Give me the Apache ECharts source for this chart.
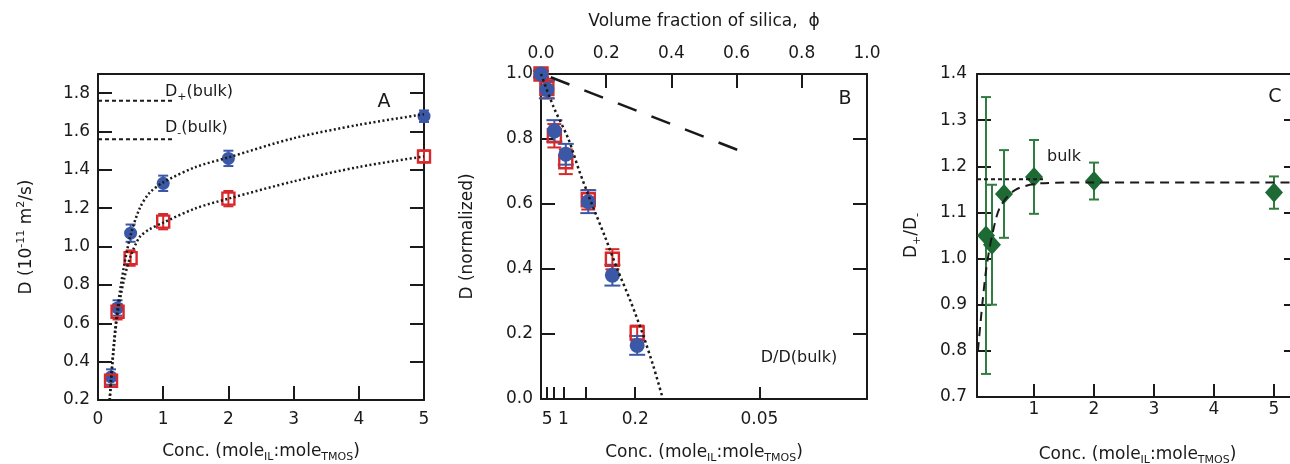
<!DOCTYPE html>
<html><head><meta charset="utf-8">
<script src="https://cdn.jsdelivr.net/npm/echarts@6/dist/echarts.min.js"></script>
<style>html,body{margin:0;padding:0;background:#fff}#c{width:1290px;height:464px}</style>
</head><body><div id="c"></div>
<script>
// ---------- Panel A: D vs concentration ----------
const concA = [0.2, 0.3, 0.5, 1, 2, 5];
const dPlusA = [0.32, 0.68, 1.07, 1.33, 1.46, 1.68];
const dPlusErrA = [0.04, 0.04, 0.045, 0.04, 0.04, 0.03];
const dMinusA = [0.30, 0.66, 0.94, 1.13, 1.25, 1.47];
const dMinusErrA = [0.03, 0.04, 0.04, 0.04, 0.04, 0.03];
const fitPlusA = [[0.18,0.2],[0.2,0.31],[0.25,0.52],[0.3,0.68],[0.4,0.9],[0.5,1.06],[0.64,1.2],[0.79,1.28],[1,1.335],[1.5,1.415],[2,1.465],[3,1.565],[4,1.635],[5,1.69]];
const fitMinusA = [[0.18,0.2],[0.2,0.3],[0.25,0.5],[0.3,0.65],[0.4,0.83],[0.5,0.95],[0.64,1.05],[0.79,1.09],[1,1.125],[1.5,1.2],[2,1.25],[3,1.34],[4,1.415],[5,1.47]];
const bulkPlusA = [[0, 1.76], [1.15, 1.76]];
const bulkMinusA = [[0, 1.56], [1.15, 1.56]];

// ---------- Panel B: normalized D vs volume fraction ----------
const phiB = [0, 0.018, 0.041, 0.076, 0.145, 0.219, 0.295];
const dPlusB = [1.0, 0.952, 0.825, 0.753, 0.607, 0.381, 0.165];
const dPlusErrB = [0.01, 0.027, 0.033, 0.032, 0.035, 0.032, 0.029];
const dMinusB = [1.0, 0.955, 0.81, 0.73, 0.613, 0.43, 0.203];
const dMinusErrB = [0.01, 0.03, 0.036, 0.038, 0.03, 0.031, 0.023];
const fitB = [[0,1],[0.038,0.9],[0.084,0.8],[0.118,0.7],[0.156,0.6],[0.196,0.5],[0.234,0.4],[0.275,0.3],[0.312,0.2],[0.345,0.1],[0.374,0]];
const dashB = [[0.03, 0.99], [0.63, 0.756]];
const concTickPhi = [0.019, 0.038, 0.069, 0.138, 0.289, 0.670];
const concLabelPhi = [0.019, 0.069, 0.289, 0.670];
const concLabels = ['5', '1', '0.2', '0.05'];

// ---------- Panel C: D+/D- ----------
const concC = [0.2, 0.3, 0.5, 1, 2, 5];
const ratioC = [1.05, 1.03, 1.14, 1.177, 1.168, 1.143];
const ratioErrC = [0.30, 0.13, 0.095, 0.08, 0.04, 0.035];
const fitC = [[0.065,0.8],[0.14,0.903],[0.21,0.983],[0.31,1.055],[0.44,1.113],[0.69,1.149],[1.11,1.163],[2,1.165],[5.4,1.165]];
const bulkC = [[0.05, 1.172], [1.15, 1.172]];
const ticksC = [1, 2, 3, 4, 5];

const FF = 'DejaVu Sans';
const INK = '#1a1a1a';
const BLUE = '#3a58a6';
const RED = '#d7282b';
const GREEN = '#1e6a35';
const GREEN_BAR = '#2f7d3f';

const richSub = {
  sub: { fontSize: 11, lineHeight: 11, verticalAlign: 'bottom', fontFamily: FF, color: INK },
  sup: { fontSize: 11, lineHeight: 11, verticalAlign: 'top', fontFamily: FF, color: INK }
};
const nameStyle = { fontFamily: FF, fontSize: 17, color: INK, lineHeight: 22, rich: richSub };
const lineSt = { color: INK, width: 2 };
const labelSt = { fontFamily: FF, fontSize: 17, color: INK };

function ax(o) {
  return Object.assign({
    type: 'value',
    axisLine: { show: true, onZero: false, lineStyle: lineSt },
    splitLine: { show: false },
    axisTick: { show: true, inside: true, length: 14, lineStyle: lineSt },
    axisLabel: Object.assign({ show: true }, labelSt)
  }, o);
}
const noTick = { show: false };
const noLabel = { show: false };

function errSeries(xs, ys, errs, color, cap, xi, yi) {
  return {
    type: 'custom', xAxisIndex: xi, yAxisIndex: yi, silent: true, clip: false,
    data: xs.map((x, i) => [x, ys[i] - errs[i], ys[i] + errs[i]]),
    renderItem(params, api) {
      const x = api.value(0);
      const a = api.coord([x, api.value(1)]);
      const b = api.coord([x, api.value(2)]);
      const st = { stroke: color, lineWidth: 2 };
      return { type: 'group', children: [
        { type: 'line', shape: { x1: a[0], y1: a[1], x2: b[0], y2: b[1] }, style: st },
        { type: 'line', shape: { x1: a[0] - cap, y1: a[1], x2: a[0] + cap, y2: a[1] }, style: st },
        { type: 'line', shape: { x1: b[0] - cap, y1: b[1], x2: b[0] + cap, y2: b[1] }, style: st }
      ] };
    }
  };
}
function pts(xs, ys) { return xs.map((x, i) => [x, ys[i]]); }
function lineSeries(data, xi, yi, type, width, smooth) {
  return { type: 'line', xAxisIndex: xi, yAxisIndex: yi, data, symbol: 'none', silent: true,
    smooth: smooth, lineStyle: { color: INK, width, type } };
}
const blueCircle = (xs, ys, xi, yi, size) => ({ type: 'scatter', xAxisIndex: xi, yAxisIndex: yi, data: pts(xs, ys),
  symbol: 'circle', symbolSize: size, itemStyle: { color: BLUE, opacity: 1 }, silent: true });
const redSquare = (xs, ys, xi, yi, size) => ({ type: 'scatter', xAxisIndex: xi, yAxisIndex: yi, data: pts(xs, ys),
  symbol: 'rect', symbolSize: size, itemStyle: { color: 'rgba(255,255,255,0)', borderColor: RED, borderWidth: 2.4, opacity: 1 }, silent: true });

const chart = echarts.init(document.getElementById('c'));
chart.setOption({
  animation: false,
  backgroundColor: '#fff',
  grid: [
    { left: 98, top: 74, width: 326, height: 326, outerBoundsMode: 'none', containLabel: false },
    { left: 541, top: 74, width: 326, height: 325, outerBoundsMode: 'none', containLabel: false },
    { left: 977, top: 74, width: 321, height: 323, outerBoundsMode: 'none', containLabel: false }
  ],
  xAxis: [
    ax({ gridIndex: 0, position: 'bottom', min: 0, max: 5, interval: 1,
      axisLabel: Object.assign({ margin: 11 }, labelSt),
      name: 'Conc. (mole{sub|IL}:mole{sub|TMOS})', nameLocation: 'middle', nameGap: 41, nameTextStyle: nameStyle }),
    ax({ gridIndex: 0, position: 'top', min: 0, max: 5, axisTick: noTick, axisLabel: noLabel }),
    ax({ gridIndex: 1, position: 'bottom', min: 0, max: 1,
      axisTick: { show: true, inside: true, length: 12, lineStyle: lineSt, customValues: concTickPhi },
      axisLabel: Object.assign({ margin: 12, customValues: concLabelPhi, formatter: v => {
        const i = concLabelPhi.findIndex(p => Math.abs(p - v) < 1e-6); return i >= 0 ? concLabels[i] : ''; } }, labelSt),
      name: 'Conc. (mole{sub|IL}:mole{sub|TMOS})', nameLocation: 'middle', nameGap: 43, nameTextStyle: nameStyle }),
    ax({ gridIndex: 1, position: 'top', min: 0, max: 1, interval: 0.2,
      axisLabel: Object.assign({ margin: 12, formatter: v => v.toFixed(1) }, labelSt),
      name: 'Volume fraction of silica,  ϕ', nameLocation: 'middle', nameGap: 41, nameTextStyle: nameStyle }),
    ax({ gridIndex: 2, position: 'bottom', min: 0.05, max: 5.4,
      axisTick: { show: true, inside: true, length: 13, lineStyle: lineSt, customValues: ticksC },
      axisLabel: Object.assign({ margin: 4, customValues: ticksC }, labelSt),
      name: 'Conc. (mole{sub|IL}:mole{sub|TMOS})', nameLocation: 'middle', nameGap: 47, nameTextStyle: nameStyle }),
    ax({ gridIndex: 2, position: 'top', min: 0.05, max: 5.4, axisTick: noTick, axisLabel: noLabel })
  ],
  yAxis: [
    ax({ gridIndex: 0, position: 'left', min: 0.2, max: 1.9, interval: 0.2,
      axisLabel: Object.assign({ margin: 8, formatter: v => (v > 1.85 ? '' : v.toFixed(1)) }, labelSt),
      name: 'D (10{sup|-11} m{sup|2}/s)', nameLocation: 'middle', nameGap: 60, nameTextStyle: nameStyle }),
    ax({ gridIndex: 0, position: 'right', min: 0.2, max: 1.9, interval: 0.2, axisLabel: noLabel }),
    ax({ gridIndex: 1, position: 'left', min: 0, max: 1, interval: 0.2,
      axisLabel: Object.assign({ margin: 8, formatter: v => v.toFixed(1) }, labelSt),
      name: 'D (normalized)', nameLocation: 'middle', nameGap: 62, nameTextStyle: nameStyle }),
    ax({ gridIndex: 1, position: 'right', min: 0, max: 1, interval: 0.2, axisLabel: noLabel }),
    ax({ gridIndex: 2, position: 'left', min: 0.7, max: 1.4, interval: 0.1,
      axisLabel: Object.assign({ margin: 10, formatter: v => v.toFixed(1) }, labelSt),
      name: 'D{sub|+}/D{sub|-}', nameLocation: 'middle', nameGap: 54, nameTextStyle: nameStyle }),
    ax({ gridIndex: 2, position: 'right', min: 0.7, max: 1.4, interval: 0.1, axisLabel: noLabel })
  ],
  series: [
    // Panel A
    lineSeries(bulkPlusA, 0, 0, [4, 3], 2, false),
    lineSeries(bulkMinusA, 0, 0, [4, 3], 2, false),
    lineSeries(fitPlusA, 0, 0, [2, 2.5], 2.5, 0.3),
    lineSeries(fitMinusA, 0, 0, [2, 2.5], 2.5, 0.3),
    errSeries(concA, dPlusA, dPlusErrA, BLUE, 5, 0, 0),
    blueCircle(concA, dPlusA, 0, 0, 13),
    errSeries(concA, dMinusA, dMinusErrA, RED, 5, 0, 0),
    redSquare(concA, dMinusA, 0, 0, 12),
    // Panel B
    lineSeries(dashB, 2, 2, [20, 16], 2.5, false),
    errSeries(phiB, dMinusB, dMinusErrB, RED, 7, 2, 2),
    redSquare(phiB, dMinusB, 2, 2, 13),
    errSeries(phiB, dPlusB, dPlusErrB, BLUE, 8, 2, 2),
    blueCircle(phiB, dPlusB, 2, 2, 15),
    lineSeries(fitB, 2, 2, [2.5, 3], 2.5, 0.3),
    // Panel C
    lineSeries(bulkC, 4, 4, [4, 3], 2, false),
    lineSeries(fitC, 4, 4, [9, 6], 2, 0.3),
    errSeries(concC, ratioC, ratioErrC, GREEN_BAR, 5, 4, 4),
    { type: 'scatter', xAxisIndex: 4, yAxisIndex: 4, data: pts(concC, ratioC), symbol: 'diamond',
      symbolSize: [18, 20], itemStyle: { color: GREEN, opacity: 1 }, silent: true }
  ],
  graphic: [
    { type: 'text', x: 384, y: 102, style: { text: 'A', fontFamily: FF, fontSize: 19, fill: INK, align: 'center', verticalAlign: 'middle' } },
    { type: 'text', x: 845, y: 99, style: { text: 'B', fontFamily: FF, fontSize: 19, fill: INK, align: 'center', verticalAlign: 'middle' } },
    { type: 'text', x: 1275, y: 97, style: { text: 'C', fontFamily: FF, fontSize: 19, fill: INK, align: 'center', verticalAlign: 'middle' } },
    { type: 'text', x: 165, y: 92, style: { text: 'D{sub|+}(bulk)', rich: richSub, fontFamily: FF, fontSize: 16, lineHeight: 22, fill: INK, align: 'left', verticalAlign: 'middle' } },
    { type: 'text', x: 165, y: 128, style: { text: 'D{sub|-}(bulk)', rich: richSub, fontFamily: FF, fontSize: 16, lineHeight: 22, fill: INK, align: 'left', verticalAlign: 'middle' } },
    { type: 'text', x: 799, y: 358, style: { text: 'D/D(bulk)', fontFamily: FF, fontSize: 16, fill: INK, align: 'center', verticalAlign: 'middle' } },
    { type: 'text', x: 1064, y: 157, style: { text: 'bulk', fontFamily: FF, fontSize: 16, fill: INK, align: 'center', verticalAlign: 'middle' } }
  ]
});
</script></body></html>
